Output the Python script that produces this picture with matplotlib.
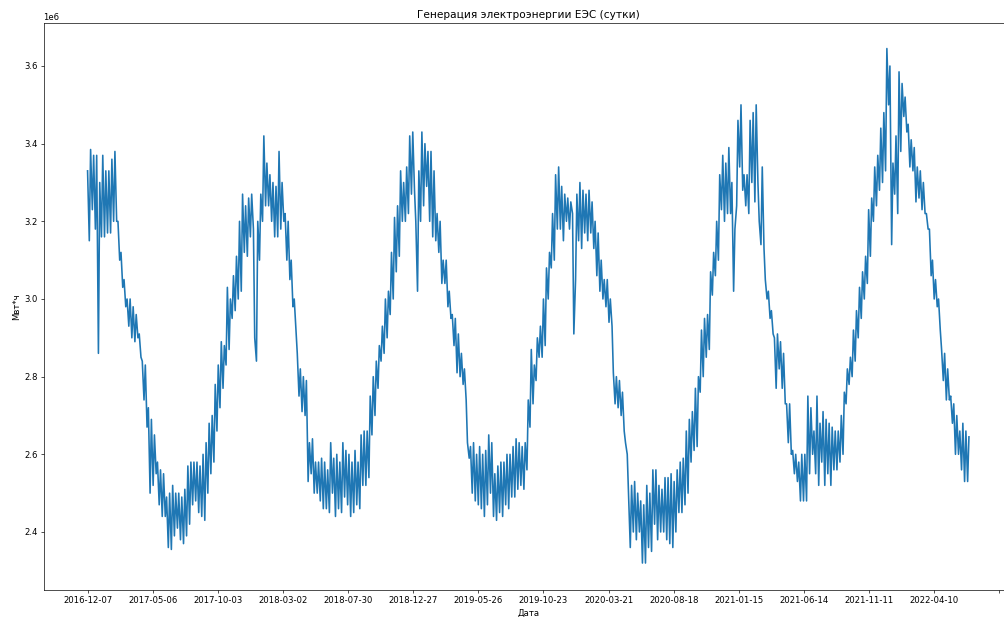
import numpy as np
import pandas as pd
import matplotlib
matplotlib.use("Agg")
import matplotlib.pyplot as plt

# Daily generation, in millions of MWh.
# Values on Wednesdays (weekday level) starting 2016-12-07, one per week.
wed_values = [
    3.33, 3.385, 3.37, 3.37, 3.30, 3.37, 3.33, 3.33, 3.36, 3.38,
    3.20, 3.12, 3.05, 3.00, 3.00, 2.98, 2.96, 2.91, 2.84, 2.83,
    2.72, 2.69, 2.65, 2.58, 2.56, 2.55, 2.49, 2.50, 2.52, 2.50,
    2.50, 2.49, 2.51, 2.57, 2.58, 2.58, 2.58, 2.57, 2.60, 2.63,
    2.68, 2.70, 2.78, 2.83, 2.89, 2.88, 3.03, 3.00, 3.06, 3.11,
    3.20, 3.27, 3.24, 3.26, 3.27, 2.90, 3.20, 3.27, 3.42, 3.35,
    3.32, 3.30, 3.29, 3.38, 3.30, 3.22, 3.20, 3.10, 3.00, 2.86,
    2.82, 2.80, 2.79, 2.63, 2.64, 2.58, 2.58, 2.59, 2.58, 2.56,
    2.63, 2.59, 2.60, 2.58, 2.63, 2.61, 2.60, 2.58, 2.61, 2.58,
    2.65, 2.66, 2.66, 2.75, 2.80, 2.84, 2.88, 2.93, 3.00, 3.02,
    3.12, 3.21, 3.24, 3.33, 3.30, 3.34, 3.42, 3.43, 3.20, 3.33,
    3.43, 3.40, 3.38, 3.38, 3.33, 3.22, 3.20, 3.10, 3.10, 3.02,
    2.96, 2.95, 2.91, 2.86, 2.82, 2.63, 2.62, 2.63, 2.60, 2.62,
    2.60, 2.61, 2.65, 2.63, 2.55, 2.57, 2.58, 2.58, 2.60, 2.60,
    2.62, 2.64, 2.63, 2.62, 2.63, 2.74, 2.87, 2.83, 2.90, 2.93,
    3.00, 3.08, 3.12, 3.22, 3.32, 3.34, 3.29, 3.27, 3.26, 3.25,
    2.91, 3.27, 3.30, 3.28, 3.27, 3.28, 3.25, 3.20, 3.17, 3.10,
    3.05, 3.05, 3.00, 2.81, 2.80, 2.79, 2.76, 2.63, 2.50, 2.52,
    2.53, 2.50, 2.48, 2.47, 2.52, 2.50, 2.56, 2.56, 2.52, 2.51,
    2.54, 2.54, 2.55, 2.53, 2.56, 2.58, 2.59, 2.66, 2.69, 2.71,
    2.77, 2.80, 2.92, 2.95, 2.96, 3.07, 3.12, 3.20, 3.32, 3.37,
    3.35, 3.39, 3.30, 3.18, 3.46, 3.50, 3.32, 3.32, 3.46, 3.48,
    3.50, 3.20, 3.34, 3.05, 3.02, 2.97, 2.90, 2.91, 2.89, 2.86,
    2.73, 2.73, 2.61, 2.60, 2.58, 2.60, 2.60, 2.75, 2.72, 2.66,
    2.75, 2.68, 2.71, 2.69, 2.68, 2.67, 2.66, 2.66, 2.70, 2.76,
    2.82, 2.85, 2.92, 2.97, 3.03, 3.07, 3.11, 3.23, 3.26, 3.34,
    3.37, 3.44, 3.48, 3.645, 3.60, 3.35, 3.42, 3.585, 3.555, 3.52,
    3.45, 3.41, 3.39, 3.34, 3.33, 3.30, 3.22, 3.18, 3.10, 3.05,
    3.00, 2.87, 2.86, 2.82, 2.75, 2.73, 2.70, 2.66, 2.68, 2.66,
    2.645,
]

# Values on Sundays (weekend level), starting 2016-12-11, one per week.
sun_values = [
    3.15, 3.23, 3.18, 2.86, 3.16, 3.16, 3.17, 3.17, 3.20, 3.20,
    3.10, 3.03, 2.98, 2.93, 2.90, 2.89, 2.90, 2.85, 2.74, 2.67,
    2.50, 2.52, 2.55, 2.47, 2.44, 2.44, 2.36, 2.355, 2.39, 2.41,
    2.38, 2.37, 2.39, 2.42, 2.47, 2.48, 2.45, 2.44, 2.43, 2.50,
    2.55, 2.58, 2.66, 2.72, 2.77, 2.83, 2.87, 2.95, 2.97, 3.00,
    3.02, 3.12, 3.11, 3.16, 3.18, 2.84, 3.10, 3.20, 3.24, 3.24,
    3.20, 3.16, 3.16, 3.18, 3.20, 3.10, 3.05, 2.98, 2.92, 2.75,
    2.71, 2.70, 2.53, 2.55, 2.50, 2.50, 2.48, 2.46, 2.46, 2.45,
    2.50, 2.44, 2.46, 2.45, 2.49, 2.47, 2.44, 2.45, 2.47, 2.46,
    2.52, 2.52, 2.54, 2.65, 2.70, 2.77, 2.84, 2.86, 2.90, 2.96,
    3.00, 3.07, 3.11, 3.20, 3.20, 3.22, 3.27, 3.28, 3.02, 3.20,
    3.24, 3.29, 3.20, 3.16, 3.15, 3.12, 3.04, 3.04, 2.98, 2.95,
    2.88, 2.81, 2.80, 2.78, 2.74, 2.59, 2.50, 2.48, 2.47, 2.46,
    2.44, 2.47, 2.50, 2.44, 2.43, 2.45, 2.44, 2.47, 2.46, 2.49,
    2.49, 2.51, 2.52, 2.51, 2.56, 2.67, 2.73, 2.79, 2.85, 2.85,
    2.88, 3.00, 3.08, 3.10, 3.18, 3.18, 3.15, 3.20, 3.18, 3.22,
    3.05, 3.15, 3.13, 3.17, 3.15, 3.17, 3.13, 3.06, 3.02, 3.00,
    2.98, 2.94, 2.93, 2.73, 2.72, 2.70, 2.66, 2.60, 2.36, 2.40,
    2.38, 2.40, 2.32, 2.32, 2.36, 2.35, 2.42, 2.38, 2.40, 2.40,
    2.38, 2.37, 2.36, 2.40, 2.45, 2.45, 2.47, 2.50, 2.58, 2.61,
    2.62, 2.76, 2.80, 2.85, 2.87, 3.01, 3.06, 3.10, 3.23, 3.20,
    3.22, 3.22, 3.02, 3.24, 3.34, 3.28, 3.24, 3.22, 3.30, 3.25,
    3.30, 3.14, 3.13, 3.00, 2.95, 2.91, 2.77, 2.82, 2.77, 2.73,
    2.63, 2.60, 2.55, 2.53, 2.48, 2.48, 2.48, 2.55, 2.60, 2.55,
    2.52, 2.58, 2.52, 2.55, 2.52, 2.56, 2.56, 2.58, 2.60, 2.73,
    2.78, 2.80, 2.84, 2.90, 2.95, 3.00, 3.04, 3.11, 3.20, 3.24,
    3.28, 3.30, 3.33, 3.50, 3.14, 3.27, 3.22, 3.38, 3.47, 3.43,
    3.34, 3.33, 3.25, 3.26, 3.23, 3.22, 3.18, 3.06, 3.00, 2.98,
    2.92, 2.79, 2.74, 2.74, 2.68, 2.60, 2.60, 2.56, 2.53, 2.53,
]

start_date = "2016-12-07"
tick_step_days = 150
n_ticks = 15

title = "Генерация электроэнергии ЕЭС (сутки)"
xlabel = "Дата"
ylabel = "Мвт*ч"

# Build the series
wed_dates = pd.date_range(start_date, periods=len(wed_values), freq="7D")
sun_dates = pd.date_range(pd.Timestamp(start_date) + pd.Timedelta(days=4),
                          periods=len(sun_values), freq="7D")
series = pd.concat([
    pd.Series(np.array(wed_values) * 1e6, index=wed_dates),
    pd.Series(np.array(sun_values) * 1e6, index=sun_dates),
]).sort_index()

W, H, DPI = 1004, 617, 61
fig = plt.figure(figsize=(W / DPI, H / DPI), dpi=DPI)
ax = fig.add_axes([43.5 / W, 1 - 590 / H, (1013 - 43.5) / W, (590 - 22.7) / H])

ax.plot(series.index, series.values, color="#1f77b4", linewidth=1.9)

tick_dates = pd.date_range(start_date, periods=n_ticks, freq=f"{tick_step_days}D")
tick_labels = [d.strftime("%Y-%m-%d") for d in tick_dates]
tick_labels[-1] = ""
ax.set_xticks(tick_dates)
ax.set_xticklabels(tick_labels)

ax.set_ylim(2.2506e6, 3.7115e6)
ax.set_yticks([2.4e6, 2.6e6, 2.8e6, 3.0e6, 3.2e6, 3.4e6, 3.6e6])

ax.set_title(title, fontsize=12.4)
ax.set_xlabel(xlabel)
ax.set_ylabel(ylabel)

fig.savefig("out.png", dpi=DPI)
